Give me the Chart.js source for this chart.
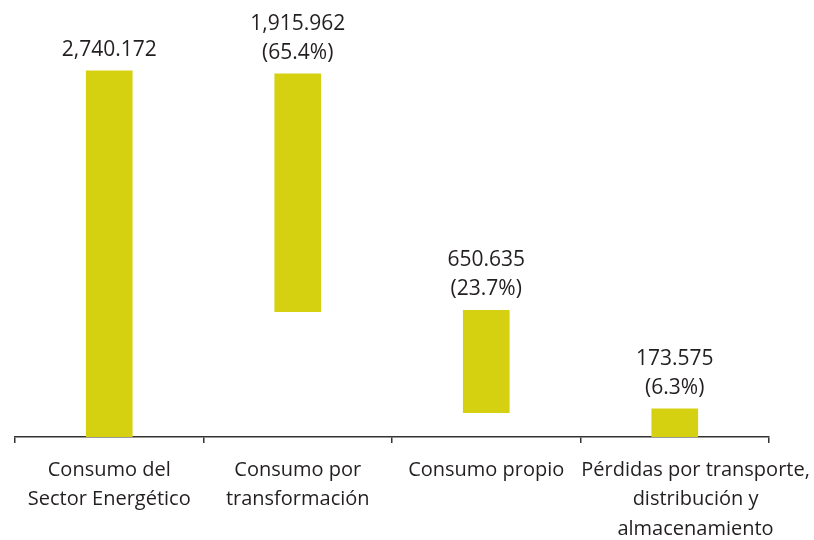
<!DOCTYPE html>
<html>
<head>
<meta charset="utf-8">
<script src="https://cdn.jsdelivr.net/npm/chart.js@4"></script>
<style>
  html, body { margin: 0; padding: 0; background: #fff; }
</style>
</head>
<body>
<canvas id="chart" width="814" height="540"></canvas>
<script>
// Categories (multi-line axis labels)
const categories = [
    ['Consumo del', 'Sector Energético'],
    ['Consumo por', 'transformación'],
    ['Consumo propio'],
    ['Pérdidas por transporte,', 'distribución y', 'almacenamiento']
];

// Floating bar ranges
const barStarts = [0, 938, 182, 0];
const barEnds = [2740, 2717, 948, 210];

// Value labels shown above each bar
const valueLabels = ['2,740.172', '1,915.962', '650.635', '173.575'];
const shareLabels = ['', '(65.4%)', '(23.7%)', '(6.3%)'];

const FONT = '"Open Sans", sans-serif';

// last label sits a bit right of its slot in the original
const indent = '\u00a0'.repeat(8);
const axisLabels = categories.map((lines, i) =>
    i === 3 ? lines.map(l => indent + l) : lines);

// Draw value labels above the bars
const barLabels = {
    id: 'barLabels',
    afterDatasetsDraw(chart) {
        const ctx = chart.ctx;
        const meta = chart.getDatasetMeta(0);
        ctx.save();
        ctx.font = '21px ' + FONT;
        ctx.fillStyle = '#231f20';
        ctx.textAlign = 'center';
        ctx.textBaseline = 'middle';
        meta.data.forEach((bar, i) => {
            const top = Math.min(bar.y, bar.base);
            const lines = [valueLabels[i]];
            if (shareLabels[i]) lines.push(shareLabels[i]);
            lines.reverse().forEach((txt, j) => {
                ctx.fillText(txt, bar.x, top - 21 - j * 29);
            });
        });
        ctx.restore();
    }
};

new Chart(document.getElementById('chart').getContext('2d'), {
    type: 'bar',
    data: {
        labels: axisLabels,
        datasets: [{
            data: barStarts.map((s, i) => [s, barEnds[i]]),
            backgroundColor: '#d5d111',
            barThickness: 46
        }]
    },
    options: {
        responsive: false,
        animation: false,
        layout: {
            padding: { left: 15, right: 45, top: 36, bottom: 0 }
        },
        plugins: {
            legend: { display: false },
            tooltip: { enabled: false }
        },
        scales: {
            y: {
                display: false,
                min: 0,
                max: 3000
            },
            x: {
                afterFit: (scale) => {
                    scale.height = 103;
                    scale.paddingLeft = 0;
                    scale.paddingRight = 0;
                },
                grid: {
                    drawOnChartArea: false,
                    tickLength: 6,
                    color: '#333',
                    lineWidth: 1.5
                },
                border: {
                    color: '#333',
                    width: 1.5
                },
                ticks: {
                    color: '#231f20',
                    padding: 12,
                    font: { family: FONT, size: 20, lineHeight: 1.48 },
                    maxRotation: 0,
                    autoSkip: false
                }
            }
        }
    },
    plugins: [barLabels]
});
</script>
</body>
</html>
